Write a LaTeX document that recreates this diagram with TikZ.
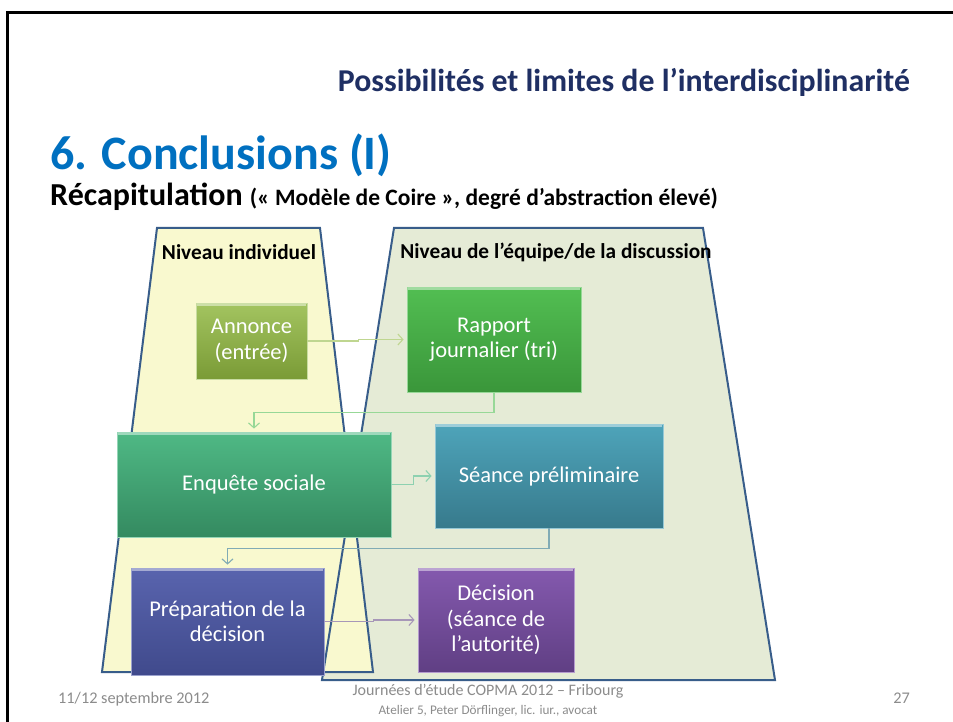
\documentclass[tikz,border=0pt]{standalone}
\usepackage{fontspec}
\setmainfont{Carlito}
\usetikzlibrary{arrows.meta}
\definecolor{navy}{HTML}{1F2F63}
\definecolor{titleblue}{HTML}{0070C0}
\definecolor{trapline}{HTML}{385D8A}
\definecolor{yellowfill}{HTML}{F9F9CF}
\definecolor{greenfill}{HTML}{E5EBD6}
\definecolor{footgrey}{HTML}{8C8C8C}
\definecolor{annT}{HTML}{A3C460}\definecolor{annB}{HTML}{7A9B36}
\definecolor{rapT}{HTML}{52BE52}\definecolor{rapB}{HTML}{3A963A}
\definecolor{enqT}{HTML}{4FB985}\definecolor{enqB}{HTML}{348A60}
\definecolor{seaT}{HTML}{4EA4BA}\definecolor{seaB}{HTML}{377A8C}
\definecolor{preT}{HTML}{5964AE}\definecolor{preB}{HTML}{404A8C}
\definecolor{decT}{HTML}{8459AE}\definecolor{decB}{HTML}{603F84}
\tikzset{
  box/.style={draw=#1!60!white, line width=0.8pt, text=white, align=center, inner sep=0pt, font=\fontsize{22.5}{25.5}\selectfont},
  conn/.style={line width=1.1pt, -{Straight Barb[length=5pt,width=11pt]}, shorten >=3pt},
  trap/.style={draw=trapline, line width=2pt, line join=miter},
  lvl/.style={font=\bfseries\fontsize{21.3}{24}\selectfont, text=black},
  foot/.style={text=footgrey},
  bevel/.style={line width=2.5pt, draw=#1}
}
\begin{document}
\begin{tikzpicture}[x=1pt,y=-1pt]
\useasboundingbox (0,0) rectangle (953,722);
\fill[white] (0,0) rectangle (953,722);
% frame
\draw[line width=3pt, line cap=rect] (7.5,722) -- (7.5,12.5) -- (953,12.5);
% titles
\node[anchor=base east, text=navy, font=\bfseries\fontsize{31.8}{34}\selectfont, inner sep=0pt] (sub) at (910,92) {Possibilités et limites de l’interdisciplinarité};
\node[anchor=base west, text=titleblue, font=\bfseries\fontsize{48}{50}\selectfont, inner sep=0pt] (title) at (50,170) {6. Conclusions (I)};
\node[anchor=base west, inner sep=0pt] (recap) at (50,206) {\bfseries\fontsize{32}{34}\selectfont Récapitulation \fontsize{23.5}{26}\selectfont(« Modèle de Coire », degré d’abstraction élevé)};
% trapezoids
\fill[greenfill] (394,228) -- (703,228) -- (775,680) -- (322,680) -- cycle;
\fill[yellowfill] (157,228) -- (320,228) -- (373,672) -- (102,672) -- cycle;
\draw[trap] (394,228) -- (703,228) -- (775,680) -- (322,680) -- cycle;
\draw[trap] (157,228) -- (320,228) -- (373,672) -- (102,672) -- cycle;
\node[lvl] (lv1) at (239,252) {Niveau individuel};
\node[lvl] (lv2) at (556,252) {Niveau de l’équipe/de la discussion};
% boxes
\node[box=annT, top color=annT, bottom color=annB, minimum width=111pt, minimum height=76pt] (ann) at (251.5,341) {Annonce\\(entrée)};
\node[box=rapT, top color=rapT, bottom color=rapB, minimum width=174pt, minimum height=105pt] (rap) at (494,339.5) {Rapport\\journalier (tri)};
\node[box=enqT, top color=enqT, bottom color=enqB, minimum width=274pt, minimum height=105pt] (enq) at (254,484.5) {Enquête sociale};
\node[box=seaT, top color=seaT, bottom color=seaB, minimum width=228pt, minimum height=104pt] (sea) at (549,476) {Séance préliminaire};
\node[box=preT, top color=preT, bottom color=preB, minimum width=193pt, minimum height=107pt] (prep) at (227.5,621.5) {Préparation de la\\décision};
\node[box=decT, top color=decT, bottom color=decB, minimum width=156pt, minimum height=104pt] (dec) at (496,620) {Décision\\(séance de\\l’autorité)};
% bevel highlights
\foreach \n/\c in {ann/annT, rap/rapT, enq/enqT, sea/seaT, prep/preT, dec/decT}{
  \draw[bevel=\c!55!white] ([yshift=-2pt,xshift=1pt]\n.north west) -- ([yshift=-2pt,xshift=-1pt]\n.north east);
}
% connectors
\draw[conn, draw=annT!70!white] (ann.east) -- ++(51,0) |- (rap.west);
\draw[conn, draw=rapT!60!white] (rap.south) -- ++(0,20) -| (enq.north);
\draw[conn, draw=enqT!65!white] (enq.east) -- ++(22,0) |- (sea.west);
\draw[conn, draw=seaT!60!gray!80!white] (sea.south) -- ++(0,20) -| (prep.north);
\draw[conn, draw=decT!55!gray!70!white] (prep.east) -- ++(49,0) |- (dec.west);
% footer
\node[foot, anchor=base west, font=\fontsize{16.3}{18}\selectfont, inner sep=0pt] (date) at (58,703) {11/12 septembre 2012};
\node[foot, anchor=base, font=\fontsize{16}{18}\selectfont, inner sep=0pt] (conf) at (488,695) {Journées d’étude COPMA 2012 – Fribourg};
\node[foot, anchor=base, font=\fontsize{13.2}{15}\selectfont, inner sep=0pt] (atel) at (488,714) {Atelier 5, Peter Dörflinger, lic. iur., avocat};
\node[foot, anchor=base east, font=\fontsize{16.3}{18}\selectfont, inner sep=0pt] (pg) at (910,703) {27};
\end{tikzpicture}
\end{document}
